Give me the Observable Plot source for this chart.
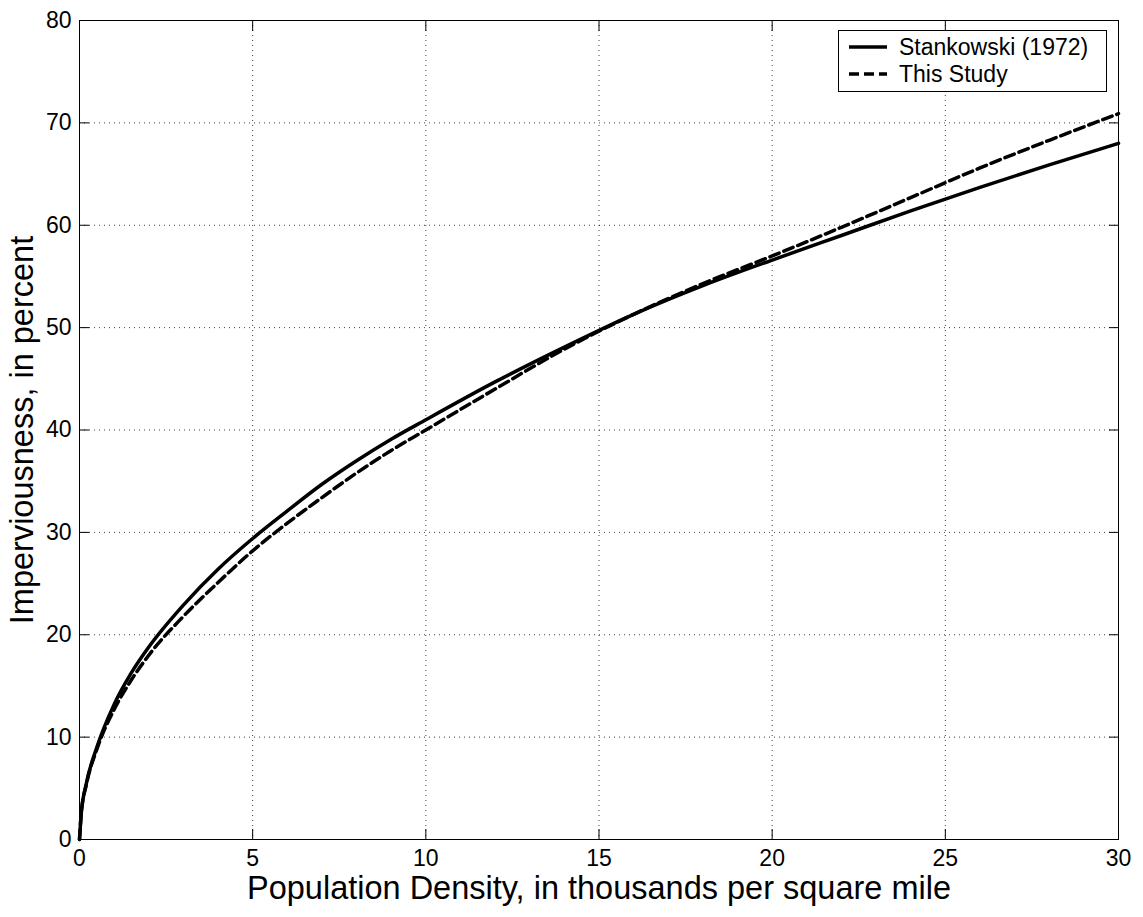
<!DOCTYPE html>
<html>
<head>
<meta charset="utf-8">
<script src="https://cdn.jsdelivr.net/npm/d3@7"></script>
<script src="https://cdn.jsdelivr.net/npm/@observablehq/plot@0.6"></script>
<style>
  html, body { margin: 0; padding: 0; background: #fff; }
  #wrap { position: relative; width: 1143px; height: 917px; font-family: "Liberation Sans", Arial, sans-serif; }
  #legend { position: absolute; left: 838px; top: 30px; width: 269px; height: 62px; border: 1px solid #000; background: #fff; box-sizing: border-box; }
  #legend .row { position: absolute; left: 0; height: 26px; display: flex; align-items: center; font-size: 23px; color: #000; }
  #legend svg { display: block; margin-left: 10px; margin-right: 12px; }
</style>
</head>
<body>
<div id="wrap"></div>
<script>
// Population density, thousands per square mile
const density = [0, 0.05, 0.2, 0.5, 1, 1.5, 2, 3, 4, 5, 6, 7, 8, 9, 10, 12, 14, 16, 18, 20, 22, 24, 26, 28, 30];
// Imperviousness, percent
const stankowski = [0, 2.5, 5.5, 9.0, 13.2, 16.3, 18.8, 22.9, 26.4, 29.4, 32.1, 34.7, 37.0, 39.1, 41.0, 44.7, 48.1, 51.3, 54.1, 56.6, 59.0, 61.4, 63.7, 65.9, 68.0];
const thisStudy  = [0, 2.5, 5.4, 8.8, 12.7, 15.6, 18.0, 21.8, 25.1, 28.2, 30.9, 33.4, 35.8, 38.0, 40.0, 44.0, 47.9, 51.3, 54.3, 57.0, 59.8, 62.7, 65.6, 68.3, 70.9];
const seriesNames = ["Stankowski (1972)", "This Study"];
const xTicks = [0, 5, 10, 15, 20, 25, 30];
const yTicks = [0, 10, 20, 30, 40, 50, 60, 70, 80];
const xLabel = "Population Density, in thousands per square mile";
const yLabel = "Imperviousness, in percent";

const rowsA = density.map((x, i) => ({x, y: stankowski[i]}));
const rowsB = density.map((x, i) => ({x, y: thisStudy[i]}));

const chart = Plot.plot({
  width: 1143,
  height: 917,
  marginLeft: 79,
  marginRight: 25,
  marginTop: 20,
  marginBottom: 78,
  style: {fontFamily: '"Liberation Sans", Arial, sans-serif', background: "#fff", color: "#000"},
  x: {domain: [0, 30], ticks: xTicks},
  y: {domain: [0, 80], ticks: yTicks},
  marks: [
    Plot.gridX(xTicks, {stroke: "#000", strokeOpacity: 0.75, strokeDasharray: "1,4", strokeWidth: 1}),
    Plot.gridY(yTicks, {stroke: "#000", strokeOpacity: 0.75, strokeDasharray: "1,4", strokeWidth: 1}),
    Plot.axisX(xTicks, {anchor: "bottom", tickSize: -10, tickFormat: () => "", label: null, stroke: "#000"}),
    Plot.axisX(xTicks, {anchor: "top", tickSize: -10, tickFormat: () => "", label: null, stroke: "#000"}),
    Plot.axisY(yTicks, {anchor: "left", tickSize: -10, tickFormat: () => "", label: null, stroke: "#000"}),
    Plot.axisY(yTicks, {anchor: "right", tickSize: -10, tickFormat: () => "", label: null, stroke: "#000"}),
    Plot.axisX(xTicks, {anchor: "bottom", tickSize: 0, tickPadding: 10, fontSize: 23, label: null, fill: "#000"}),
    Plot.axisY(yTicks, {anchor: "left", tickSize: 0, tickPadding: 8, fontSize: 23, label: null, fill: "#000"}),
    Plot.frame({stroke: "#000", strokeWidth: 1}),
    Plot.line(rowsA, {x: "x", y: "y", stroke: "#000", strokeWidth: 3.5, curve: "monotone-x"}),
    Plot.line(rowsB, {x: "x", y: "y", stroke: "#000", strokeWidth: 3.5, strokeDasharray: "10,5", curve: "monotone-x"}),
    Plot.text([xLabel], {frameAnchor: "bottom", dy: 49, fontSize: 32.5, lineAnchor: "middle", fill: "#000"}),
    Plot.text([yLabel], {frameAnchor: "left", dx: -57, rotate: -90, fontSize: 32.5, lineAnchor: "middle", textAnchor: "middle", fill: "#000"})
  ]
});
chart.style.position = "absolute";
chart.style.left = "0";
chart.style.top = "0";
const wrap = document.getElementById("wrap");
wrap.appendChild(chart);

// Legend
const legend = document.createElement("div");
legend.id = "legend";
const dashes = [null, "10,5"];
seriesNames.forEach((name, i) => {
  const row = document.createElement("div");
  row.className = "row";
  row.style.top = (3 + i * 27) + "px";
  row.innerHTML = `<svg width="38" height="8"><line x1="0" x2="38" y1="4" y2="4" stroke="#000" stroke-width="3.5" ${dashes[i] ? `stroke-dasharray="${dashes[i]}"` : ""}/></svg><span></span>`;
  row.querySelector("span").textContent = name;
  legend.appendChild(row);
});
wrap.appendChild(legend);
</script>
</body>
</html>
